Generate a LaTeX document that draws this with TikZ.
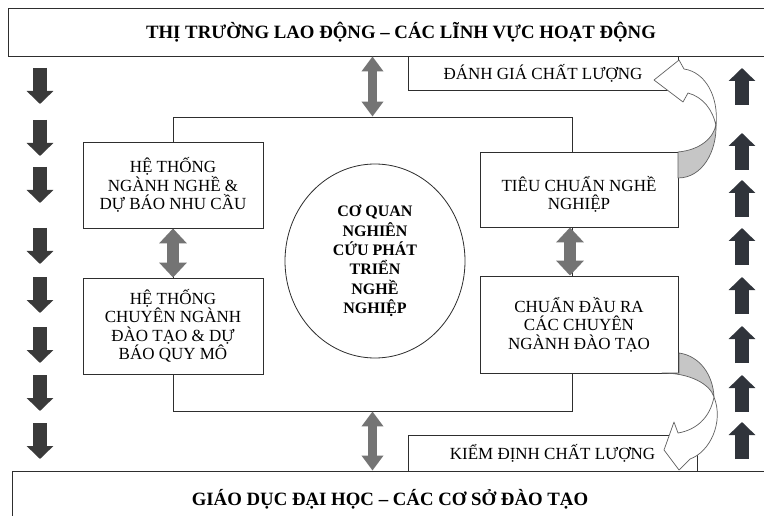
\documentclass[tikz,border=0pt]{standalone}
\usepackage{fontspec}
\setmainfont{Liberation Serif}
\usetikzlibrary{arrows.meta,shapes.geometric}

\definecolor{ink}{HTML}{2E2E2E}
\definecolor{blockdark}{HTML}{3A3A3A}
\definecolor{blocknavy}{HTML}{30343B}
\definecolor{midgray}{HTML}{747474}
\definecolor{backgray}{HTML}{C6C6C6}
\definecolor{curveline}{HTML}{606060}

\begin{document}
\begin{tikzpicture}[x=1pt,y=-1pt,
  every node/.style={inner sep=0pt},
  box/.style={draw=ink, line width=0.9pt, fill=white, align=center,
    font=\fontsize{17}{18.5}\selectfont},
  plainbox/.style={draw=ink, line width=0.9pt, fill=white},
  boxtext/.style={align=center, font=\fontsize{17}{18.5}\selectfont},
  titlebox/.style={draw=ink, line width=0.9pt, fill=white,
    font=\bfseries\fontsize{18.8}{20}\selectfont},
  hub/.style={draw=ink, line width=0.8pt, fill=white, ellipse, align=center,
    font=\bfseries\fontsize{16}{19.4}\selectfont},
  linkwide/.style={midgray, line width=12pt,
    {Triangle[width=27pt,length=15pt]}-{Triangle[width=27pt,length=15pt]}},
  linkthin/.style={midgray, line width=9pt,
    {Triangle[width=21pt,length=15pt]}-{Triangle[width=21pt,length=15pt]}},
  flowdown/.style={blockdark, line width=14pt, -{Triangle[width=26pt,length=13pt]}},
  flowup/.style={blocknavy, line width=14pt, -{Triangle[width=26pt,length=13pt]}},
  backface/.style={fill=backgray, draw=curveline, line width=0.7pt, line join=round},
  frontface/.style={fill=white, draw=curveline, line width=0.7pt, line join=round}
]
\clip (0,0) rectangle (764,516);
\fill[white] (0,0) rectangle (764,516);

% outer layers: labour market on top, higher education at the bottom
\node[titlebox, minimum width=786pt, minimum height=48pt] (market) at (401,32)
  {THỊ TRƯỜNG LAO ĐỘNG – CÁC LĨNH VỰC HOẠT ĐỘNG};
\node[titlebox, minimum width=756pt, minimum height=56pt] (edu) at (390,499)
  {GIÁO DỤC ĐẠI HỌC – CÁC CƠ SỞ ĐÀO TẠO};

% quality tabs attached to the two layers
\node[box, minimum width=270pt, minimum height=34pt] (danhgia) at (543,73)
  {ĐÁNH GIÁ CHẤT LƯỢNG};
\node[box, minimum width=289pt, minimum height=36pt] (kiemdinh) at (552.5,453)
  {KIỂM ĐỊNH CHẤT LƯỢNG};

% central frame
\node[draw=ink, line width=0.9pt, minimum width=399pt, minimum height=294pt] (frame) at (372.5,264) {};

% left column
\node[box, minimum width=180pt, minimum height=86pt] (nganhnghe) at (173,185)
  {HỆ THỐNG\\NGÀNH NGHỀ \&\\DỰ BÁO NHU CẦU};
\node[box, minimum width=180pt, minimum height=96pt] (chuyennganh) at (173,326)
  {HỆ THỐNG\\CHUYÊN NGÀNH\\ĐÀO TẠO \& DỰ\\BÁO QUY MÔ};

% right column
\node[plainbox, minimum width=198pt, minimum height=75pt] (tieuchuan) at (579,189.5) {};
\node[boxtext] (tieuchuantext) at ([yshift=-5pt]tieuchuan.center)
  {TIÊU CHUẨN NGHỀ\\NGHIỆP};
\node[box, minimum width=198pt, minimum height=97pt] (chuandaura) at (579,324.5)
  {CHUẨN ĐẦU RA\\CÁC CHUYÊN\\NGÀNH ĐÀO TẠO};

% research body in the middle
\node[hub, minimum width=180pt, minimum height=194pt] (coquan) at (375,261)
  {CƠ QUAN\\NGHIÊN\\CỨU PHÁT\\TRIỂN\\NGHỀ\\NGHIỆP};

% two-way links
\draw[linkthin] (frame.north |- market.south) -- (frame.north);
\draw[linkthin] (frame.south) -- (frame.south |- edu.north);
\draw[linkwide] (nganhnghe.south) -- (chuyennganh.north);
\draw[linkwide] ([xshift=-9pt]tieuchuan.south) -- ([xshift=-9pt]chuandaura.north);

% downward flow on the left, upward flow on the right
\foreach \t in {68,120,167,228,277,327,375,423}
  \draw[flowdown] (40,\t) -- (40,{\t+36});
\foreach \t in {68,133,180,228,277,326,375,422}
  \draw[flowup] (742,{\t+37}) -- (742,\t);

% curved arrow: occupational standards -> quality assessment
\filldraw[backface] (678,152) .. controls (700,150) and (714,138) .. (716,124)
  .. controls (717,152) and (702,178) .. (678,178) -- cycle;
\filldraw[frontface] (716,126) .. controls (719,96) and (705,72) .. (684,69)
  -- (679,60) -- (654,80) -- (683,102) -- (688,93)
  .. controls (703,97) and (713,110) .. (716,126) -- cycle;

% curved arrow: learning outcomes -> accreditation
\filldraw[backface] (679,353) .. controls (700,356) and (713,375) .. (714,397)
  .. controls (710,384) and (690,373) .. (662,373) -- (679,373) -- cycle;
\filldraw[frontface] (714,397) .. controls (724,422) and (710,452) .. (690,459)
  -- (679,470) -- (664,450) -- (674,422) -- (678,433)
  .. controls (696,430) and (710,418) .. (714,397) -- cycle;
\end{tikzpicture}
\end{document}
